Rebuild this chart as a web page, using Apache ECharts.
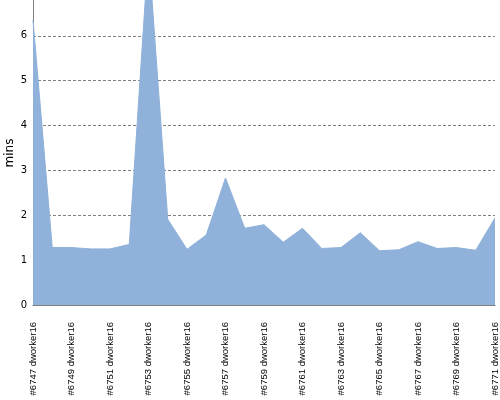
<!DOCTYPE html>
<html>
<head>
<meta charset="utf-8">
<script src="https://cdn.jsdelivr.net/npm/echarts@6/dist/echarts.min.js"></script>
<style>html,body{margin:0;padding:0;background:#fff}#c{width:500px;height:400px}</style>
</head>
<body>
<div id="c"></div>
<script>
var categories = ["#6747 dworker16","#6748 dworker16","#6749 dworker16","#6750 dworker16","#6751 dworker16","#6752 dworker16","#6753 dworker16","#6754 dworker16","#6755 dworker16","#6756 dworker16","#6757 dworker16","#6758 dworker16","#6759 dworker16","#6760 dworker16","#6761 dworker16","#6762 dworker16","#6763 dworker16","#6764 dworker16","#6765 dworker16","#6766 dworker16","#6767 dworker16","#6768 dworker16","#6769 dworker16","#6770 dworker16","#6771 dworker16"];
var minutes = [6.35,1.28,1.28,1.25,1.25,1.35,7.9,1.91,1.24,1.56,2.83,1.71,1.79,1.40,1.71,1.26,1.28,1.61,1.21,1.23,1.41,1.26,1.28,1.22,1.94];
var yTicks = [0,1,2,3,4,5,6];
var yTitle = 'mins';

var chart = echarts.init(document.getElementById('c'), null, {renderer:'canvas'});
chart.setOption({
  animation:false,
  grid:{left:33,right:5,top:-54,bottom:95,containLabel:false,outerBoundsMode:'none'},
  graphic:[{
    type:'text',x:4,y:153,rotation:Math.PI/2,
    style:{text:yTitle,fontSize:12,fill:'#000',fontFamily:'DejaVu Sans',align:'center',verticalAlign:'top'}
  }],
  xAxis:{
    type:'category',data:categories,boundaryGap:false,
    axisLine:{lineStyle:{color:'#808080',width:1}},
    axisTick:{show:false},
    axisLabel:{rotate:90,interval:1,margin:17,fontSize:9.5,color:'#000',fontFamily:'Liberation Sans'},
    splitLine:{show:false}
  },
  yAxis:{
    type:'value',min:0,max:8,interval:1,
    axisLine:{show:true,lineStyle:{color:'#808080',width:1}},
    axisTick:{show:false},
    axisLabel:{fontSize:10,color:'#000',margin:6,fontFamily:'DejaVu Sans',
      formatter:function(v){return yTicks.indexOf(v)>=0?String(v):'';}},
    splitLine:{show:true,lineStyle:{color:'#808080',type:[3,2],width:1}}
  },
  series:[{
    type:'line',data:minutes,symbol:'none',
    lineStyle:{width:1,color:'#8fb1da'},
    areaStyle:{color:'#8fb1da',opacity:1},
    z:1
  }]
});
</script>
</body>
</html>
